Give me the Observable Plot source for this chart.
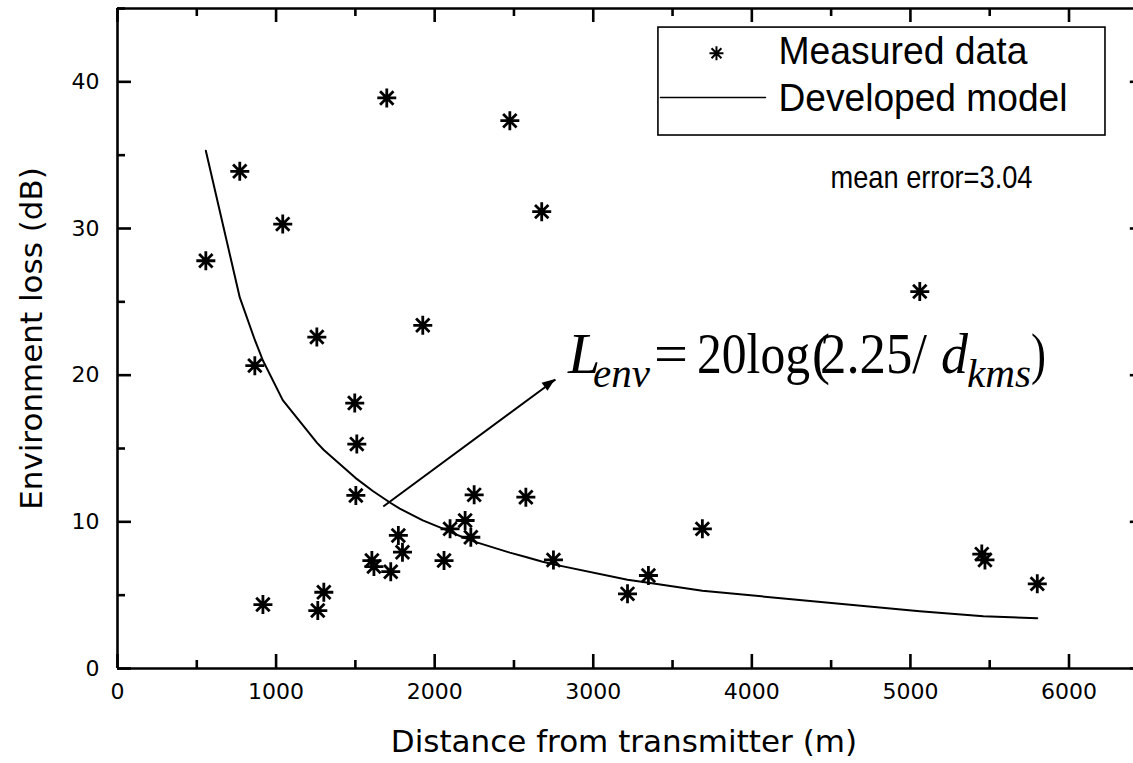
<!DOCTYPE html>
<html>
<head>
<meta charset="utf-8">
<script src="https://cdn.jsdelivr.net/npm/d3@7"></script>
<script src="https://cdn.jsdelivr.net/npm/@observablehq/plot@0.6"></script>
<style>
  html, body { margin: 0; padding: 0; background: #fff; }
  #chart svg { display: block; }
</style>
</head>
<body>
<div id="chart"></div>
<script>
// ---------- data ----------
const measuredDistance = [557, 771, 866, 917, 1042, 1257, 1263, 1301, 1496, 1509, 1503, 1604, 1617, 1723, 1771, 1797, 1698, 1925, 2059, 2097, 2192, 2228, 2249, 2474, 2575, 2675, 2749, 3216, 3348, 3688, 5059, 5450, 5470, 5800];
const measuredLoss     = [27.8, 33.9, 20.65, 4.36, 30.3, 22.6, 3.95, 5.2, 18.1, 15.3, 11.8, 7.36, 6.95, 6.6, 9.07, 7.93, 38.9, 23.4, 7.36, 9.52, 10.09, 8.95, 11.84, 37.35, 11.68, 31.15, 7.4, 5.09, 6.34, 9.52, 25.7, 7.8, 7.4, 5.77];

const modelDistance = [557, 771, 866, 917, 1042, 1257, 1301, 1500, 1610, 1720, 1780, 1925, 2060, 2100, 2190, 2230, 2250, 2474, 2575, 2675, 2749, 3216, 3348, 3688, 5059, 5460, 5800];
const modelLoss     = [35.3, 25.3, 22.4, 21.0, 18.3, 15.4, 14.9, 13.0, 12.1, 11.3, 10.9, 10.1, 9.5, 9.3, 8.9, 8.75, 8.65, 7.9, 7.6, 7.3, 7.1, 6.05, 5.85, 5.3, 3.9, 3.57, 3.43];

const xMajorTicks = [0, 1000, 2000, 3000, 4000, 5000, 6000];
const xMinorTicks = [500, 1500, 2500, 3500, 4500, 5500, 6500];
const yMajorTicks = [0, 10, 20, 30, 40];
const yMinorTicks = [5, 15, 25, 35, 45];

const xTitle = "Distance from transmitter (m)";
const yTitle = "Environment loss (dB)";
const legendLabels = ["Measured data", "Developed model"];
const meanErrorLabel = "mean error=3.04";

// annotation anchors (data units)
const arrowFrom = [1676, 11.05];
const arrowTo = [2762, 19.7];
const formulaAnchor = [2844, 20.11];
const legendBox = {x1: 3411, x2: 6230, y1: 36.34, y2: 43.7};

// ---------- layout ----------
const W = 1133, H = 763;
const mL = 117, mR = -14.8, mT = 8, mB = 95;
const plotW = W - mL - mR, plotH = H - mT - mB;
const sans = "'DejaVu Sans', sans-serif";
const arial = "'Liberation Sans', Arial, sans-serif";
const serif = "'Liberation Serif', 'Times New Roman', serif";

const measured = measuredDistance.map((d, i) => ({d, v: measuredLoss[i]}));
const model = modelDistance.map((d, i) => ({d, v: modelLoss[i]}));

// 8-spoke asterisk symbol
const star = {
  draw(ctx, size) {
    const r = Math.sqrt(size / Math.PI);
    const q = r * Math.SQRT1_2;
    ctx.moveTo(0, -r); ctx.lineTo(0, r);
    ctx.moveTo(-r, 0); ctx.lineTo(r, 0);
    ctx.moveTo(-q, -q); ctx.lineTo(q, q);
    ctx.moveTo(-q, q); ctx.lineTo(q, -q);
  }
};

const majorLen = 14, minorLen = 8, tw = 2.6;

const plot = Plot.plot({
  width: W, height: H,
  marginLeft: mL, marginRight: mR, marginTop: mT, marginBottom: mB,
  style: {background: "#fff", fontFamily: sans, color: "#000"},
  x: {domain: [0, 6500], axis: null},
  y: {domain: [0, 45], axis: null},
  marks: [
    // frame (left, bottom, top, right off-canvas)
    Plot.ruleX([0, 6500], {stroke: "#000", strokeWidth: tw}),
    Plot.ruleY([0, 45], {stroke: "#000", strokeWidth: tw}),
    // inward ticks bottom
    Plot.tickX(xMajorTicks, {stroke: "#000", strokeWidth: tw, insetTop: plotH - majorLen}),
    Plot.tickX(xMinorTicks, {stroke: "#000", strokeWidth: tw, insetTop: plotH - minorLen}),
    // inward ticks top
    Plot.tickX(xMajorTicks, {stroke: "#000", strokeWidth: tw, insetBottom: plotH - majorLen}),
    Plot.tickX(xMinorTicks, {stroke: "#000", strokeWidth: tw, insetBottom: plotH - minorLen}),
    // inward ticks left
    Plot.tickY(yMajorTicks, {stroke: "#000", strokeWidth: tw, insetRight: plotW - majorLen}),
    Plot.tickY(yMinorTicks, {stroke: "#000", strokeWidth: tw, insetRight: plotW - minorLen}),
    // inward ticks right (only their tips show at the edge)
    Plot.tickY(yMajorTicks, {stroke: "#000", strokeWidth: tw, insetLeft: plotW - 18}),
    Plot.tickY(yMinorTicks, {stroke: "#000", strokeWidth: tw, insetLeft: plotW - minorLen}),
    // tick labels
    Plot.axisX(xMajorTicks, {tickSize: 0, tickPadding: 15, fontSize: 22, fontFamily: sans, tickFormat: d3.format("d"), label: null}),
    Plot.axisY(yMajorTicks, {tickSize: 0, tickPadding: 18, fontSize: 22, fontFamily: sans, tickFormat: d3.format("d"), label: null}),
    // axis titles
    Plot.text([xTitle], {frameAnchor: "bottom", dy: 74, dx: -9, textAnchor: "middle", lineAnchor: "middle", fontSize: 31, fontFamily: sans, fill: "#000"}),
    Plot.text([yTitle], {frameAnchor: "left", dx: -85, rotate: -90, textAnchor: "middle", lineAnchor: "middle", fontSize: 31, fontFamily: sans, fill: "#000"}),
    // model curve
    Plot.line(model, {x: "d", y: "v", stroke: "#000", strokeWidth: 2}),
    // measured data
    Plot.dot(measured, {x: "d", y: "v", symbol: star, r: 9.5, fill: "none", stroke: "#000", strokeWidth: 2.8}),
    // arrow shaft
    Plot.link([{x1: arrowFrom[0], y1: arrowFrom[1], x2: arrowTo[0], y2: arrowTo[1]}],
      {x1: "x1", y1: "y1", x2: "x2", y2: "y2", stroke: "#000", strokeWidth: 2}),
    // legend
    Plot.rect([legendBox], {x1: "x1", x2: "x2", y1: "y1", y2: "y2", fill: "#fff", stroke: "#000", strokeWidth: 1.6}),
    Plot.dot([{d: 3777, v: 41.95}], {x: "d", y: "v", symbol: star, r: 7, fill: "none", stroke: "#000", strokeWidth: 2}),
    Plot.text([legendLabels[0]], {x: 4168, y: 42.1, textAnchor: "start", lineAnchor: "middle", fontSize: 39, fontFamily: arial, fill: "#000"}),
    Plot.line([{d: 3424, v: 38.93}, {d: 4086, v: 38.93}], {x: "d", y: "v", stroke: "#000", strokeWidth: 1.6}),
    Plot.text([legendLabels[1]], {x: 4168, y: 38.83, textAnchor: "start", lineAnchor: "middle", fontSize: 39, fontFamily: arial, fill: "#000"}),
    Plot.text([meanErrorLabel], {x: 4496, y: 33.49, textAnchor: "start", lineAnchor: "middle", fontSize: 32, fontFamily: arial, fill: "#000"})
  ]
});

document.getElementById("chart").appendChild(plot);

// the reference uses a narrower face than Arial: keep glyph height, fit the width
const fitWidths = new Map([[legendLabels[0], 249], [legendLabels[1], 289], [meanErrorLabel, 202]]);
d3.select(plot).selectAll("text").each(function () {
  const w = fitWidths.get(this.textContent);
  if (w) d3.select(this).attr("textLength", w).attr("lengthAdjust", "spacingAndGlyphs");
});

const sx = plot.scale("x"), sy = plot.scale("y");

// filled arrow head at the arrow tip, via the plot scales
{
  const x1 = sx.apply(arrowFrom[0]), y1 = sy.apply(arrowFrom[1]);
  const x2 = sx.apply(arrowTo[0]), y2 = sy.apply(arrowTo[1]);
  const len = Math.hypot(x2 - x1, y2 - y1);
  const ux = (x2 - x1) / len, uy = (y2 - y1) / len;
  const hl = 13, hw = 5;
  const bx = x2 - ux * hl, by = y2 - uy * hl;
  const pts = [[x2, y2], [bx - uy * hw, by + ux * hw], [bx + uy * hw, by - ux * hw]];
  d3.select(plot).append("path")
    .attr("d", "M" + pts.map(p => p.join(",")).join("L") + "Z")
    .attr("fill", "#000").attr("stroke", "none");
}

// formula annotation, positioned through the plot's own scales
{
  const fx = sx.apply(formulaAnchor[0]), fy = sy.apply(formulaAnchor[1]);
  const g = d3.select(plot).append("g")
    .attr("transform", `translate(${fx},${fy})`)
    .attr("font-family", serif).attr("fill", "#000").attr("text-anchor", "start");
  // [text, dx from anchor, baseline shift, size, italic, fitted width]
  const parts = [
    ["L", 0, 0, 58, true, null],
    ["env", 25, 14, 40, true, 57],
    ["=", 86, 0, 58, false, 34],
    ["20log", 129, 0, 58, false, 113],
    ["(", 244, 0, 58, false, 18],
    ["2.25/", 252, 0, 58, false, 107],
    ["d", 373, 0, 58, true, 27],
    ["kms", 399, 14, 40, true, 64],
    [")", 463, 0, 58, false, 15]
  ];
  for (const [txt, dx, dy, fs, it, w] of parts) {
    const t = g.append("text").attr("x", dx).attr("y", dy).attr("font-size", fs).text(txt);
    if (it) t.attr("font-style", "italic");
    if (w) t.attr("textLength", w).attr("lengthAdjust", "spacingAndGlyphs");
  }
}
</script>
</body>
</html>
